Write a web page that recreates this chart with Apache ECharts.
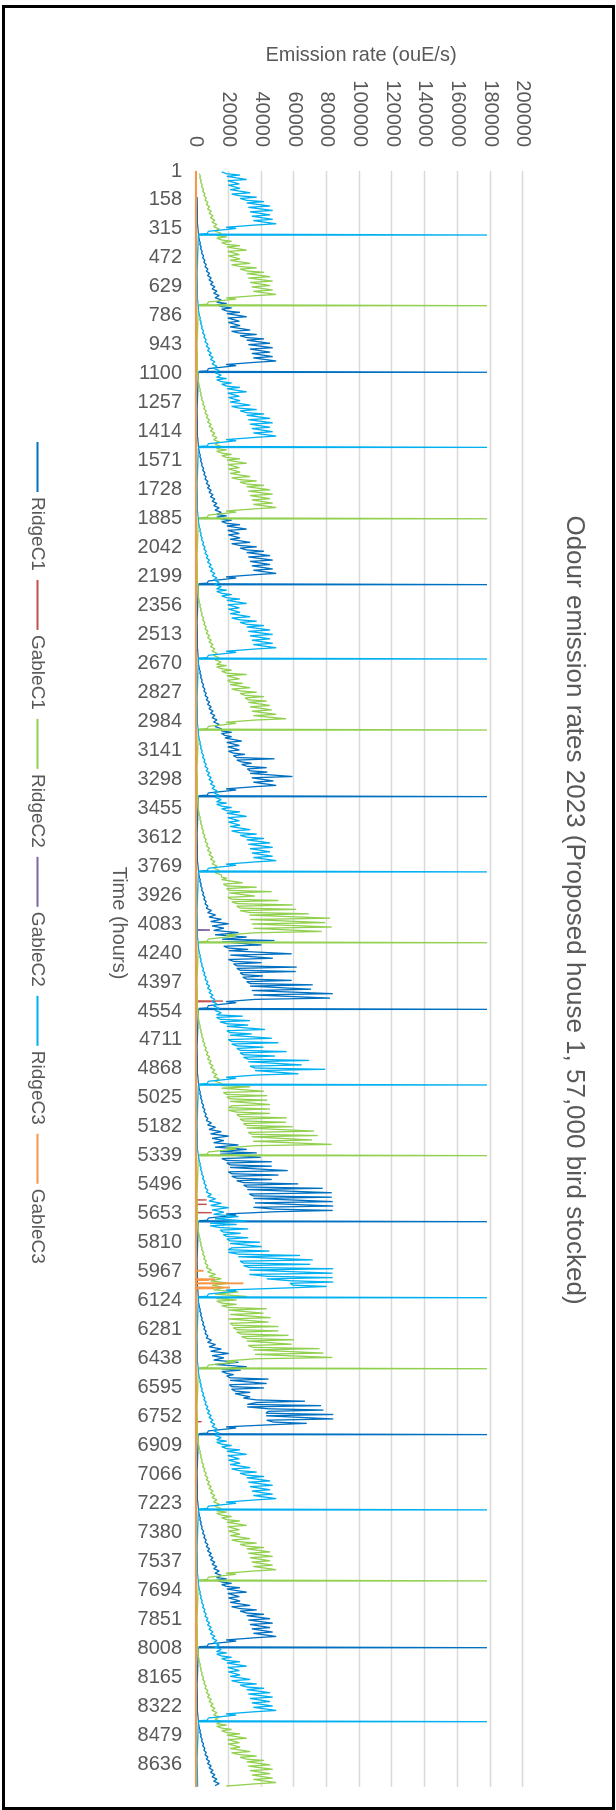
<!DOCTYPE html>
<html><head><meta charset="utf-8">
<script src="https://cdn.jsdelivr.net/npm/echarts@6/dist/echarts.min.js"></script>
<style>
html,body{margin:0;padding:0;background:#fff;width:616px;height:1810px;overflow:hidden;}
#chart{position:absolute;left:0;top:0;width:1810px;height:616px;transform-origin:0 0;transform:translate(616px,0) rotate(90deg);}
#frame{position:absolute;left:2px;top:5px;width:613px;height:1805px;box-sizing:border-box;border:3px solid #000;pointer-events:none;}
</style></head><body>
<div id="chart"></div><div id="frame"></div>
<script>
// ---------------- DATA ----------------
const hourCount = 8760;
const seriesNames = ['RidgeC1', 'GableC1', 'RidgeC2', 'GableC2', 'RidgeC3', 'GableC3'];
const titleText = 'Odour emission rates 2023 (Proposed house 1, 57,000 bird stocked)';
const valueAxisTitle = 'Emission rate (ouE/s)';
const timeAxisTitle = 'Time (hours)';

// clean-out spike hours of each ridge series (one per batch)
const ridgeC1Spikes = [1092, 2243, 3392, 4545, 5696, 6850, 8005, 9157];
const ridgeC2Spikes = [731, 1886, 3031, 4184, 5338, 6493, 7643, 8797];
const ridgeC3Spikes = [348, 1499, 2646, 3800, 4955, 6108, 7258, 8406, 9558];

// empty-shed period (hours relative to the spike) and values
const restHours = [-950, -800];
const restValues = [600, 1000];
const restEndValue = 1600;

// early growth: daily low / high
const riseLow = [2000, 2400, 2900, 3500, 4100, 4800, 5500, 6300, 7100, 8000, 8900, 9800, 10800, 11600];
const riseHigh = [2600, 3200, 3800, 4600, 5400, 6300, 7300, 8300, 9300, 10400, 11600, 12800, 14200, 15500];
const riseHighSummer = [2600, 3200, 3800, 4600, 5400, 6300, 7300, 9500, 12000, 15500, 20000, 17000, 26000, 31000];

// typical late-growth days: daily low / high
const normalZigLow = [12600, 15700, 18800, 19400, 19800, 20800, 21800, 27000, 31000, 32000, 33000, 34100, 35100, 36100];
const normalZigHigh = [18800, 21800, 26900, 31000, 26500, 27000, 33100, 37100, 41600, 45300, 46900, 45300, 46900, 49000];

// batches that differ from the typical one
const c1Zig3392Low = [15700, 17700, 18800, 19400, 19800, 22800, 24900, 27900, 31400, 33000, 34100, 35100, 36100];
const c1Zig3392High = [21800, 21800, 28000, 26500, 26500, 30000, 48000, 34100, 43300, 43700, 59000, 47300, 49000];
const c1Zig4545Low = [16000, 17000, 20000, 21000, 19800, 23000, 24900, 27000, 28600, 31000, 33000, 34100, 35100, 36100];
const c1Zig4545High = [48000, 40000, 32000, 58500, 47000, 40000, 61600, 61000, 41000, 58600, 71400, 70400, 83600, 82000];
const c1Zig5696Low = [14700, 15700, 18800, 20800, 19800, 21800, 24900, 29000, 31400, 32600, 35100, 36100, 35100, 48300];
const c1Zig5696High = [37100, 39600, 46300, 46300, 56100, 50400, 46300, 62600, 77500, 83000, 83000, 83600, 84000, 83600];
const c1Zig6850Low = [15700, 18800, 20800, 20400, 21800, 23900, 28900, 37100, 31400, 44300, 42800, 43300, 47300];
const c1Zig6850High = [27300, 23000, 44300, 43300, 41600, 33100, 33100, 66700, 76500, 78000, 84000, 84000, 67700];

const c2Zig3031Low = [12600, 15700, 18800, 19400, 20800, 21800, 27000, 30000, 32000, 33000, 34100, 35100, 36100];
const c2Zig3031High = [18800, 21800, 31000, 26500, 28600, 33100, 37100, 41600, 43300, 45300, 46300, 49000, 55100];
const c2Zig4184Low = [15700, 16700, 18800, 20400, 19400, 21800, 24900, 26900, 32600, 33000, 34100, 35100, 36100];
const c2Zig4184High = [18800, 28600, 37100, 46300, 36100, 50400, 59200, 61200, 69000, 82000, 79000, 83000, 76900];
const c2Zig5338Low = [15700, 16700, 18800, 20800, 21800, 19800, 24900, 26900, 29000, 31000, 32000, 34100, 35100, 36100];
const c2Zig5338High = [33100, 41600, 43600, 43600, 45300, 45300, 45300, 55500, 55000, 59200, 72200, 74500, 71000, 83000];
const c2Zig6493Low = [12600, 15700, 19800, 20800, 19800, 20800, 22800, 24900, 27900, 31000, 32000, 35100, 36100, 36100];
const c2Zig6493High = [24900, 24900, 43300, 41200, 45700, 44300, 50400, 50400, 56500, 60000, 58600, 75500, 78000, 83400];

const c3Zig4955Low = [12600, 14700, 18800, 18800, 20800, 19800, 21800, 24900, 26900, 29000, 32000, 33000, 36100, 37100];
const c3Zig4955High = [28600, 33000, 32000, 42200, 34100, 46300, 50400, 41200, 55500, 48300, 69200, 64700, 79000, 62600];
const c3Zig6108Low = [8600, 14700, 16700, 18800, 20800, 21800, 19800, 25900, 26900, 29000, 32600, 32600, 43300, 57500, 59200];
const c3Zig6108High = [24900, 32000, 27300, 32000, 39200, 40200, 44900, 63600, 71400, 69800, 84000, 83400, 83600, 84000, 80000];

// thinning + clean-out around each spike (hours relative to spike)
const dropHours = [-42, -36, -30, -22, -20, -8, -5, 0, 1, 6];
const dropValues = [18400, 24500, 18400, 18000, 7500, 7000, 1500, 178000, 1400, 200];

// gable series: short peaks, otherwise zero
const gableC1PeakHours = [4500, 4503, 5578, 5602, 5647, 6780];
const gableC1PeakValues = [16500, 12000, 6500, 6500, 9600, 3500];
const gableC2PeakHours = [4114, 4116];
const gableC2PeakValues = [8600, 8600];
const gableC3PeakHours = [5962, 6008, 6012, 6030, 6053, 6057];
const gableC3PeakValues = [4500, 11600, 8000, 29000, 20800, 11000];

// ---------------- BUILD ----------------
const hourLabels = Array.from({length: hourCount}, (_, i) => String(i + 1));

const customZig = {
  c1: {3392: [c1Zig3392Low, c1Zig3392High], 4545: [c1Zig4545Low, c1Zig4545High], 5696: [c1Zig5696Low, c1Zig5696High], 6850: [c1Zig6850Low, c1Zig6850High]},
  c2: {3031: [c2Zig3031Low, c2Zig3031High], 4184: [c2Zig4184Low, c2Zig4184High], 5338: [c2Zig5338Low, c2Zig5338High], 6493: [c2Zig6493Low, c2Zig6493High]},
  c3: {4955: [c3Zig4955Low, c3Zig4955High], 6108: [c3Zig6108Low, c3Zig6108High]}
};
const summerRise = {c1: [4545, 5696, 6850], c2: [6493], c3: [6108]};

function buildRidge(spikes, key) {
  const pts = new Map();
  const add = (h, v) => { if (h >= 1 && h <= hourCount) pts.set(h, v); };
  spikes.forEach(S => {
    const z = customZig[key][S] || [normalZigLow, normalZigHigh];
    const zl = z[0], zh = z[1];
    const zigStart = S - 44 - 24 * zl.length;
    const rh = summerRise[key].includes(S) ? riseHighSummer : riseHigh;
    const riseStart = zigStart - 24 * riseLow.length;
    restHours.forEach((o, i) => add(S + o, restValues[i]));
    add(riseStart - 24, restEndValue);
    riseLow.forEach((v, j) => { add(riseStart + 24 * j, v); add(riseStart + 24 * j + 12, rh[j]); });
    zl.forEach((v, i) => { const t = zigStart + 24 * i; add(t, v); add(t + 7, zh[i]); add(t + 14, v); });
    dropHours.forEach((o, i) => add(S + o, dropValues[i]));
  });
  return [...pts.entries()].sort((a, b) => a[0] - b[0]).map(([h, v]) => [h - 1, v]);
}
function buildGable(hours, values) {
  const pts = new Map();
  pts.set(1, 0); pts.set(hourCount, 0);
  hours.forEach((h, i) => {
    if (!pts.has(h - 1)) pts.set(h - 1, 0);
    pts.set(h, values[i]);
    pts.set(h + 1, 0);
  });
  return [...pts.entries()].sort((a, b) => a[0] - b[0]).map(([h, v]) => [h - 1, v]);
}

const seriesData = [
  buildRidge(ridgeC1Spikes, 'c1'),
  buildGable(gableC1PeakHours, gableC1PeakValues),
  buildRidge(ridgeC2Spikes, 'c2'),
  buildGable(gableC2PeakHours, gableC2PeakValues),
  buildRidge(ridgeC3Spikes, 'c3'),
  buildGable(gableC3PeakHours, gableC3PeakValues)
];

// ---------------- STYLE ----------------
const colors = ['#0070C0', '#C0504D', '#92D050', '#8064A2', '#00B0F0', '#F79646'];
const FONT = "'Liberation Sans', Arial, sans-serif";
const TXT = '#595959';

const chart = echarts.init(document.getElementById('chart'), null, {renderer: 'canvas', width: 1810, height: 616});
chart.setOption({
  animation: false,
  backgroundColor: '#fff',
  grid: {left: 171, right: 23, top: 93, bottom: 196, outerBoundsMode: 'none'},
  legend: {
    data: seriesNames, left: 437, top: 564, icon: 'rect', itemWidth: 50, itemHeight: 2, itemGap: 9,
    textStyle: {fontSize: 19, color: TXT, fontFamily: FONT, width: 100}
  },
  xAxis: {
    type: 'category', data: hourLabels, boundaryGap: false,
    axisTick: {show: false},
    axisLine: {show: true, lineStyle: {color: '#d9d9d9'}},
    axisLabel: {interval: 156, rotate: 90, margin: 14, fontSize: 20, color: TXT, fontFamily: FONT},
    splitLine: {show: false}
  },
  yAxis: {
    type: 'value', min: 0, max: 200000, interval: 20000,
    axisLine: {show: false}, axisTick: {show: false},
    axisLabel: {margin: 24, fontSize: 20, color: TXT, fontFamily: FONT, formatter: v => String(v)},
    splitLine: {show: true, lineStyle: {color: '#d9d9d9', width: 1.3}}
  },
  graphic: [
    {type: 'text', x: 910, y: 42, style: {text: titleText, fontSize: 26, fontFamily: FONT, fill: TXT, align: 'center', verticalAlign: 'middle'}},
    {type: 'text', x: 55, y: 255, rotation: Math.PI / 2, style: {text: valueAxisTitle, fontSize: 20, fontFamily: FONT, fill: TXT, align: 'center', verticalAlign: 'middle'}},
    {type: 'text', x: 923, y: 497, style: {text: timeAxisTitle, fontSize: 20, fontFamily: FONT, fill: TXT, align: 'center', verticalAlign: 'middle'}}
  ],
  series: seriesNames.map((name, i) => ({
    name, type: 'line', data: seriesData[i], showSymbol: false, symbol: 'none', clip: false,
    color: colors[i], lineStyle: {width: i === 5 ? 1.8 : 1.3, color: colors[i]}, sampling: null
  }))
});
</script></body></html>
